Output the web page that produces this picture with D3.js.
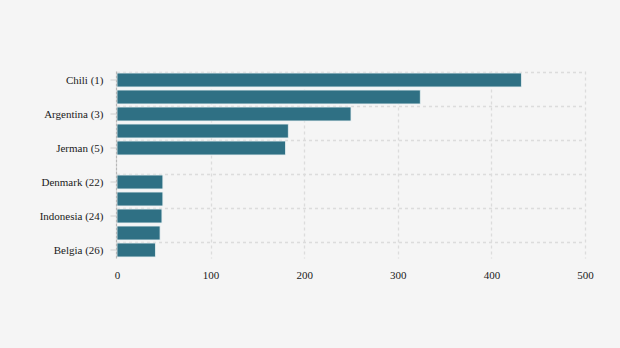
<!DOCTYPE html>
<html>
<head>
<meta charset="utf-8">
<script src="https://cdn.jsdelivr.net/npm/d3@7"></script>
<style>
  html, body { margin: 0; padding: 0; background: #f5f5f5; }
  svg { display: block; }
</style>
</head>
<body>
<svg id="chart" width="620" height="348"></svg>
<script>
// Rank slots shown on the y axis (the blank slot separates the top group from the lower group)
const ranks = ["1", "2", "3", "4", "5", "gap", "22", "23", "24", "25", "26"];
const values = [432, 324, 250, 183, 180, null, 49, 49, 48, 46, 41];
// Only every other rank gets a country label
const tickRanks = ["1", "3", "5", "22", "24", "26"];
const tickLabels = ["Chili (1)", "Argentina (3)", "Jerman (5)", "Denmark (22)", "Indonesia (24)", "Belgia (26)"];
const xTicks = [0, 100, 200, 300, 400, 500];

const rows = ranks.map((r, i) => ({ rank: r, value: values[i] }));

const svg = d3.select("#chart");
const plotLeft = 117, plotRight = 585, plotTop = 71.5, plotBottom = 258.5;
const fontStack = '"Liberation Serif", "Times New Roman", serif';

const x = d3.scaleLinear().domain([0, 500]).range([plotLeft, plotRight]);
const y = d3.scaleBand().domain(ranks).range([plotTop, plotBottom])
  .paddingInner(0.18).paddingOuter(0.09);

const halfGap = y.step() * y.paddingInner() / 2;

// Horizontal gridlines at the start of each labelled slot
svg.append("g").selectAll("line")
  .data(tickRanks)
  .join("line")
  .attr("x1", plotLeft).attr("x2", plotRight)
  .attr("y1", d => Math.round(y(d) - halfGap) + 0.5)
  .attr("y2", d => Math.round(y(d) - halfGap) + 0.5)
  .attr("stroke", "#dcdcdc").attr("stroke-width", 1.3)
  .attr("stroke-dasharray", "3,3");

// Vertical gridlines
svg.append("g").selectAll("line")
  .data(xTicks.filter(t => t > 0))
  .join("line")
  .attr("x1", d => Math.round(x(d)) + 0.5).attr("x2", d => Math.round(x(d)) + 0.5)
  .attr("y1", plotTop).attr("y2", plotBottom)
  .attr("stroke", "#dcdcdc").attr("stroke-width", 1.3)
  .attr("stroke-dasharray", "3,3");

// Bars
svg.append("g").selectAll("rect")
  .data(rows.filter(d => d.value != null))
  .join("rect")
  .attr("x", x(0))
  .attr("y", d => y(d.rank))
  .attr("width", d => x(d.value) - x(0))
  .attr("height", y.bandwidth())
  .attr("fill", "#2f7084")
  .attr("stroke", "#e6eef0").attr("stroke-width", 0.8);

// Left axis line
svg.append("line")
  .attr("x1", plotLeft - 0.5).attr("x2", plotLeft - 0.5)
  .attr("y1", plotTop).attr("y2", plotBottom)
  .attr("stroke", "#b8b8b8").attr("stroke-width", 1.2)
  .attr("stroke-dasharray", "3,1");

// Y axis with country labels
const yAxis = d3.axisLeft(y)
  .tickValues(tickRanks)
  .tickFormat(d => tickLabels[tickRanks.indexOf(d)])
  .tickSize(6).tickPadding(7);
const gy = svg.append("g").attr("transform", `translate(${plotLeft - 0.5},0)`).call(yAxis);
gy.select(".domain").remove();
gy.selectAll(".tick line").attr("stroke", "#cfcfcf");
gy.selectAll(".tick text")
  .style("font-family", fontStack).style("font-size", "11px").style("fill", "#1a1a1a");

// X axis labels
const xAxis = d3.axisBottom(x).tickValues(xTicks).tickSize(0).tickPadding(13);
const gx = svg.append("g").attr("transform", `translate(0,${plotBottom})`).call(xAxis);
gx.select(".domain").remove();
gx.selectAll(".tick text")
  .style("font-family", fontStack).style("font-size", "11px").style("fill", "#1a1a1a");
</script>
</body>
</html>
